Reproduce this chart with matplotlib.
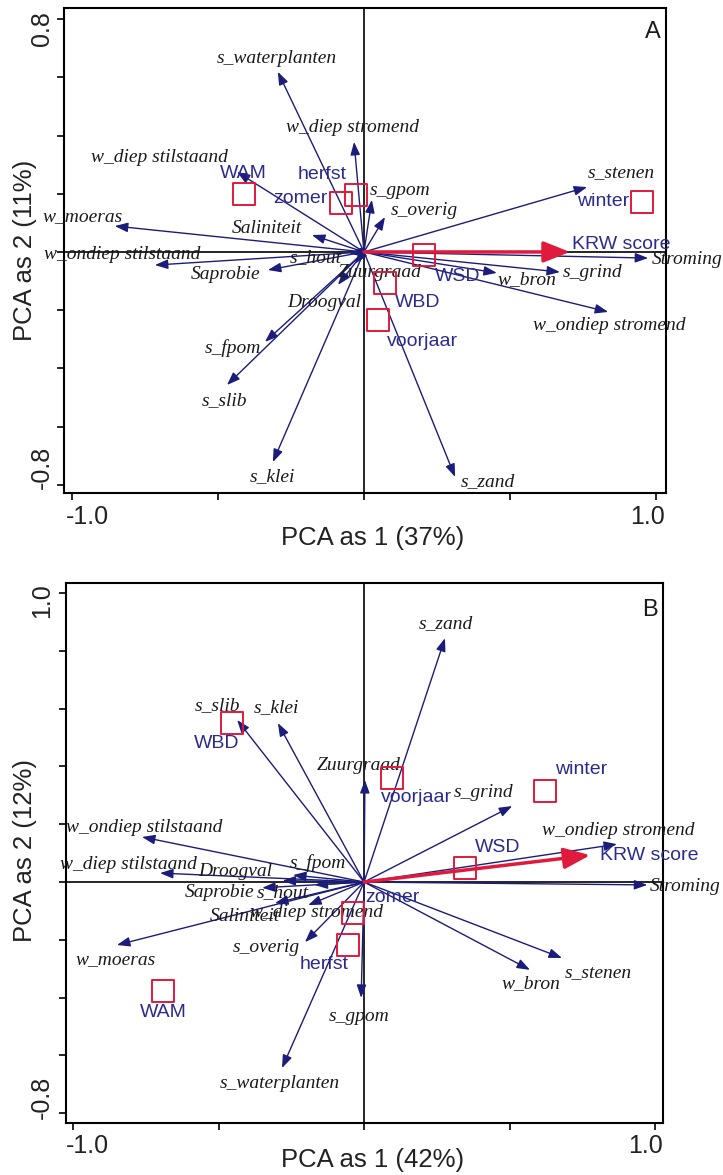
import matplotlib
matplotlib.use("Agg")
import matplotlib.pyplot as plt

# ---------------- DATA ----------------
# Panel A (PCA as 1 37%, as 2 11%)
A_vars = ["s_waterplanten", "w_diep stromend", "w_diep stilstaand", "w_moeras", "Saliniteit",
          "w_ondiep stilstaand", "s_hout", "Saprobie", "Zuurgraad", "Droogval", "s_fpom",
          "s_slib", "s_klei", "s_zand", "w_ondiep stromend", "w_bron", "s_grind", "Stroming",
          "s_stenen", "s_overig", "s_gpom"]
A_vx = [-0.295, -0.034, -0.435, -0.853, -0.178, -0.716, -0.050, -0.329, -0.030, -0.089, -0.339,
        -0.469, -0.312, 0.312, 0.836, 0.455, 0.671, 0.973, 0.764, 0.072, 0.027]
A_vy = [0.619, 0.378, 0.275, 0.089, 0.058, -0.045, -0.005, -0.062, -0.040, -0.113, -0.309,
        -0.457, -0.722, -0.773, -0.206, -0.072, -0.069, -0.021, 0.223, 0.120, 0.179]
A_krw = (0.705, 0.0)
A_samples = ["WAM", "zomer", "herfst", "winter", "WSD", "WBD", "voorjaar"]
A_sx = [-0.411, -0.079, -0.027, 0.952, 0.205, 0.072, 0.048]
A_sy = [0.199, 0.168, 0.196, 0.172, -0.010, -0.107, -0.234]

# Panel B (PCA as 1 42%, as 2 12%)
B_vars = ["s_zand", "s_slib", "s_klei", "Zuurgraad", "s_grind", "w_ondiep stromend", "Stroming",
          "s_stenen", "w_bron", "s_gpom", "s_waterplanten", "w_moeras", "s_overig", "Saliniteit",
          "w_diep stromend", "Saprobie", "s_hout", "Droogval", "s_fpom", "w_diep stilstaand",
          "w_ondiep stilstaand"]
B_vx = [0.278, -0.436, -0.296, 0.003, 0.509, 0.869, 0.973, 0.680, 0.570, -0.010, -0.282, -0.849,
        -0.203, -0.306, -0.192, -0.350, -0.170, -0.280, -0.244, -0.701, -0.763]
B_vy = [0.844, 0.561, 0.550, 0.353, 0.263, 0.131, -0.010, -0.263, -0.304, -0.401, -0.644, -0.218,
        -0.208, -0.073, -0.080, -0.020, -0.010, 0.005, 0.024, 0.031, 0.156]
B_krw = (0.777, 0.093)
B_samples = ["WBD", "voorjaar", "winter", "WSD", "zomer", "herfst", "WAM"]
B_sx = [-0.454, 0.096, 0.622, 0.347, -0.038, -0.055, -0.691]
B_sy = [0.550, 0.360, 0.315, 0.048, -0.107, -0.218, -0.377]

# ---------------- LAYOUT (label placement) ----------------
A_vlab = [(-0.298, 0.663), (-0.038, 0.426), (-0.699, 0.326), (-0.962, 0.120), (-0.332, 0.079),
          (-0.829, -0.010), (-0.165, -0.021), (-0.473, -0.079), (0.055, -0.072), (-0.137, -0.175),
          (-0.449, -0.330), (-0.476, -0.509), (-0.315, -0.773), (0.425, -0.790), (0.839, -0.251),
          (0.558, -0.096), (0.784, -0.072), (0.986, -0.027), (0.882, 0.271), (0.205, 0.144),
          (0.123, 0.210)]
A_krwlab = (0.880, 0.024)
A_slab = [(-0.414, 0.271), (-0.216, 0.182), (-0.144, 0.265), (0.818, 0.172), (0.322, -0.086),
          (0.185, -0.175), (0.202, -0.309)]

B_vlab = [(0.282, 0.896), (-0.505, 0.612), (-0.302, 0.602), (-0.017, 0.405), (0.409, 0.311),
          (0.873, 0.180), (0.983, -0.017), (0.805, -0.315), (0.574, -0.353), (-0.017, -0.464),
          (-0.289, -0.699), (-0.852, -0.270), (-0.337, -0.228), (-0.409, -0.121), (-0.162, -0.107),
          (-0.495, -0.035), (-0.278, -0.035), (-0.443, 0.035), (-0.158, 0.066), (-0.811, 0.059),
          (-0.756, 0.190)]
B_krwlab = (0.979, 0.093)
B_slab = [(-0.505, 0.481), (0.179, 0.294), (0.746, 0.388), (0.460, 0.121), (0.096, -0.052),
          (-0.137, -0.284), (-0.691, -0.450)]

W, H = 723, 1175
NAVY = "#1c1c7a"
SAMPLE_C = "#2b2b8f"
RED = "#e01a3c"
TXT = "#1a1a1a"

fig = plt.figure(figsize=(W / 100, H / 100), dpi=100)


def fpos(x, y):
    return x / W, 1 - y / H


def axes_px(l, t, r, b):
    return fig.add_axes([l / W, 1 - b / H, (r - l) / W, (b - t) / H])


def draw_panel(ax, vars_, vx, vy, vlab, krw, krwlab, samples, sx, sy, slab,
               xlim, ylim, yticks, letter):
    ax.set_xlim(*xlim)
    ax.set_ylim(*ylim)
    ax.axhline(0, color="black", lw=1.2, zorder=1)
    ax.axvline(0, color="black", lw=1.2, zorder=1)
    for name, x, y, (lx, ly) in zip(vars_, vx, vy, vlab):
        ax.annotate("", xy=(x, y), xytext=(0, 0),
                    arrowprops=dict(arrowstyle="-|>,head_length=0.65,head_width=0.24",
                                    mutation_scale=12, color=NAVY, lw=1.0,
                                    shrinkA=0, shrinkB=0), zorder=3)
        ha = "left" if name == "Stroming" else "center"
        ax.text(lx, ly, name, family="Liberation Serif", style="italic", fontsize=14,
                color=TXT, ha=ha, va="center", zorder=5, clip_on=False)
    ax.annotate("", xy=krw, xytext=(0, 0),
                arrowprops=dict(arrowstyle="-|>,head_length=0.8,head_width=0.32",
                                mutation_scale=20, color=RED, lw=2.5,
                                shrinkA=0, shrinkB=0), zorder=4)
    ax.text(krwlab[0], krwlab[1], "KRW score", family="Liberation Sans", fontsize=14,
            color=SAMPLE_C, ha="center", va="center", zorder=5, clip_on=False)
    ax.scatter(sx, sy, marker="s", s=260, facecolors="none", edgecolors=RED,
               linewidths=1.4, zorder=6)
    for name, (lx, ly) in zip(samples, slab):
        ax.text(lx, ly, name, family="Liberation Sans", fontsize=14, color=SAMPLE_C,
                ha="center", va="center", zorder=5)
    ax.set_xticks([-1.0, -0.5, 0.0, 0.5, 1.0])
    ax.set_yticks(yticks)
    ax.set_xticklabels([])
    ax.set_yticklabels([])
    ax.tick_params(direction="out", length=5, width=1.2, color="black")
    for s in ax.spines.values():
        s.set_linewidth(1.5)
    ax.text(0.978, 0.95, letter, transform=ax.transAxes, family="Liberation Sans",
            fontsize=17, color=TXT, ha="center", va="center")


axA = axes_px(64, 8, 666, 493)
draw_panel(axA, A_vars, A_vx, A_vy, A_vlab, A_krw, A_krwlab, A_samples, A_sx, A_sy, A_slab,
           (-1.027, 1.034), (-0.828, 0.838), [-0.8, -0.6, -0.4, -0.2, 0, 0.2, 0.4, 0.6, 0.8], "A")

axB = axes_px(66, 583, 663, 1123)
draw_panel(axB, B_vars, B_vx, B_vy, B_vlab, B_krw, B_krwlab, B_samples, B_sx, B_sy, B_slab,
           (-1.024, 1.027), (-0.834, 1.035),
           [-0.8, -0.6, -0.4, -0.2, 0, 0.2, 0.4, 0.6, 0.8, 1.0], "B")

# tick labels and axis titles
tk = dict(family="Liberation Sans", fontsize=18, color="#222222", ha="center", va="center")
fig.text(*fpos(87, 517), "-1.0", **tk)
fig.text(*fpos(647, 517), "1.0", **tk)
fig.text(*fpos(42, 29), "0.8", rotation=90, **tk)
fig.text(*fpos(42, 467), "-0.8", rotation=90, **tk)
fig.text(*fpos(373, 538), "PCA as 1 (37%)", **dict(tk, fontsize=18.5))
fig.text(*fpos(25, 250), "PCA as 2 (11%)", rotation=90, **dict(tk, fontsize=18.5))

fig.text(*fpos(87, 1146), "-1.0", **tk)
fig.text(*fpos(645, 1146), "1.0", **tk)
fig.text(*fpos(42, 601), "1.0", rotation=90, **tk)
fig.text(*fpos(42, 1097), "-0.8", rotation=90, **tk)
fig.text(*fpos(373, 1160), "PCA as 1 (42%)", **dict(tk, fontsize=18.5))
fig.text(*fpos(25, 850), "PCA as 2 (12%)", rotation=90, **dict(tk, fontsize=18.5))

fig.savefig("out.png", dpi=100)
